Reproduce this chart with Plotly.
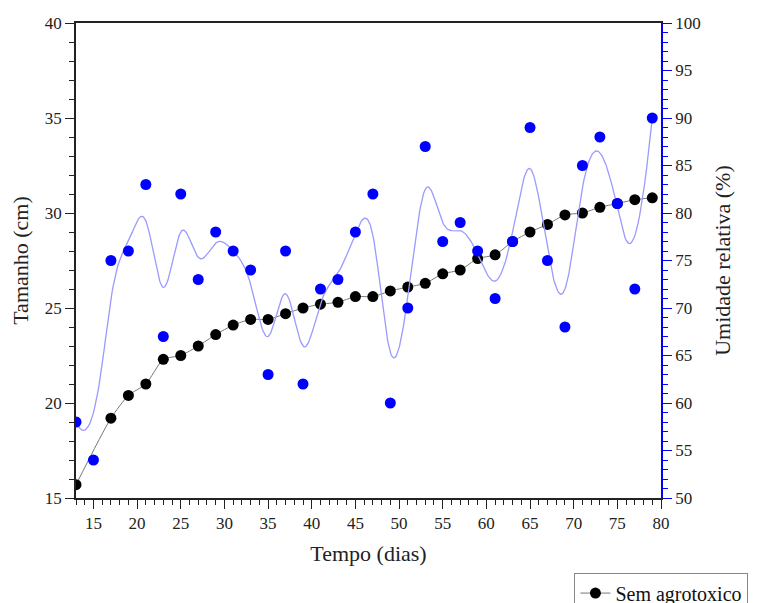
import numpy as np
import plotly.graph_objects as go

# ---- data ----
dias_tam = [13, 17, 19, 21, 23, 25, 27, 29, 31, 33, 35, 37, 39, 41, 43, 45, 47,
            49, 51, 53, 55, 57, 59, 61, 63, 65, 67, 69, 71, 73, 75, 77, 79]
tamanho = [15.7, 19.2, 20.4, 21.0, 22.3, 22.5, 23.0, 23.6, 24.1, 24.4, 24.4, 24.7,
           25.0, 25.2, 25.3, 25.6, 25.6, 25.9, 26.1, 26.3, 26.8, 27.0, 27.6, 27.8,
           28.5, 29.0, 29.4, 29.9, 30.0, 30.3, 30.5, 30.7, 30.8]

dias_umid = [13, 15, 17, 19, 21, 23, 25, 27, 29, 31, 33, 35, 37, 39, 41, 43, 45,
             47, 49, 51, 53, 55, 57, 59, 61, 63, 65, 67, 69, 71, 73, 75, 77, 79]
umidade = [58, 54, 75, 76, 83, 67, 82, 73, 78, 76, 74, 63, 76, 62, 72, 73, 78,
           82, 60, 70, 87, 77, 79, 76, 71, 77, 89, 75, 68, 85, 88, 81, 72, 90]


def bspline(cx, cy, deg=3, num=800):
    """Clamped uniform B-spline using the data points as control points."""
    cx = np.asarray(cx, float)
    cy = np.asarray(cy, float)
    n = len(cx)
    knots = np.concatenate([np.zeros(deg), np.arange(0, n - deg + 1),
                            np.full(deg, n - deg)]).astype(float)
    t = np.linspace(0, n - deg, num)
    m = len(knots) - 1
    N = np.zeros((m, num))
    for i in range(m):
        N[i] = (knots[i] <= t) & (t < knots[i + 1])
    last = np.max(np.where(knots[:-1] < knots[1:])[0])
    N[last, -1] = 1.0
    for p in range(1, deg + 1):
        Nn = np.zeros((m - p, num))
        for i in range(m - p):
            a = np.zeros(num)
            b = np.zeros(num)
            d1 = knots[i + p] - knots[i]
            d2 = knots[i + p + 1] - knots[i + 1]
            if d1 > 0:
                a = (t - knots[i]) / d1 * N[i]
            if d2 > 0:
                b = (knots[i + p + 1] - t) / d2 * N[i + 1]
            Nn[i] = a + b
        N = Nn
    return N.T @ cx, N.T @ cy


bx, by = bspline(dias_umid, umidade)

FONT = "Liberation Serif"

fig = go.Figure()

fig.add_trace(go.Scatter(
    x=dias_tam, y=tamanho, mode="lines+markers", name="Sem agrotoxico",
    line=dict(color="#777777", width=1, shape="spline", smoothing=0.6),
    marker=dict(color="black", size=11, symbol="circle"),
    yaxis="y", showlegend=True,
))

fig.add_trace(go.Scatter(
    x=bx, y=by, mode="lines", line=dict(color="#9a9aff", width=1.3),
    yaxis="y2", showlegend=False, hoverinfo="skip",
))
fig.add_trace(go.Scatter(
    x=dias_umid, y=umidade, mode="markers",
    marker=dict(color="#0000ff", size=11, symbol="circle"),
    yaxis="y2", showlegend=False,
))

tickfont = dict(family=FONT, size=17, color="#222")
titlefont = dict(family=FONT, size=22, color="#222")

fig.update_layout(
    width=766, height=595,
    margin=dict(l=68, r=112.5, t=15.3, b=104.7, autoexpand=False),
    paper_bgcolor="white", plot_bgcolor="white",
    xaxis=dict(
        range=[13, 80], tick0=0, dtick=5, ticks="outside", ticklen=9, tickwidth=1.4,
        tickcolor="#222", showline=True, linecolor="#222", linewidth=1.6,
        mirror=True, showgrid=False, zeroline=False, tickfont=tickfont,
        minor=dict(dtick=1, tick0=0, ticks="outside", ticklen=5, tickwidth=1.2,
                   tickcolor="#222", showgrid=False),
        title=dict(text="Tempo (dias)", font=titlefont, standoff=13),
    ),
    yaxis=dict(
        range=[15, 40], tick0=0, dtick=5, ticks="outside", ticklen=9, tickwidth=1.4,
        tickcolor="#222", showline=True, linecolor="#222", linewidth=1.6,
        showgrid=False, zeroline=False, tickfont=tickfont,
        minor=dict(dtick=1, tick0=0, ticks="outside", ticklen=5, tickwidth=1.2,
                   tickcolor="#222", showgrid=False),
        title=dict(text="Tamanho (cm)", font=titlefont, standoff=10),
    ),
    yaxis2=dict(
        range=[50, 100], tick0=0, dtick=5, ticks="outside", ticklen=9, tickwidth=1.4,
        tickcolor="#0000ff", showline=True, linecolor="#0000ff", linewidth=1.6,
        showgrid=False, zeroline=False, tickfont=tickfont,
        overlaying="y", side="right",
        minor=dict(dtick=1, tick0=0, ticks="outside", ticklen=5, tickwidth=1.2,
                   tickcolor="#0000ff", showgrid=False),
        title=dict(text="Umidade relativa (%)", font=titlefont, standoff=15),
    ),
    legend=dict(
        x=0.852, y=-0.157, xanchor="left", yanchor="top",
        bordercolor="#888", borderwidth=1, bgcolor="white",
        font=dict(family=FONT, size=20, color="#111"),
    ),
)

fig.write_html("out.html")
